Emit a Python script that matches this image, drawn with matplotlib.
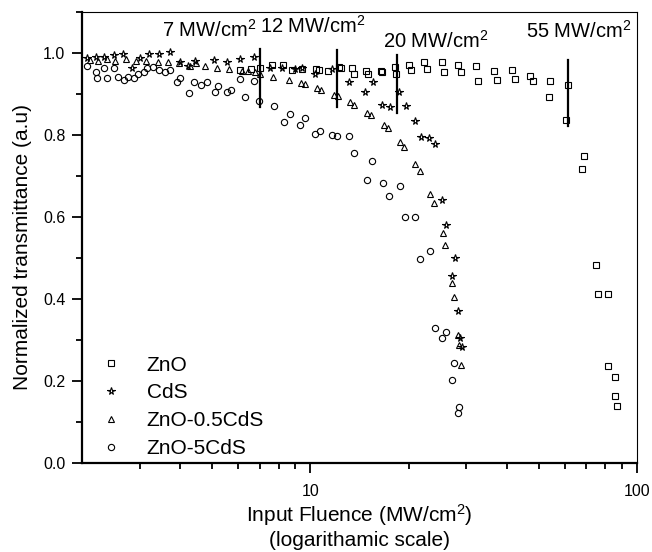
import matplotlib
matplotlib.use('Agg')
import matplotlib.pyplot as plt
from matplotlib.ticker import MultipleLocator, FixedLocator, NullFormatter

plt.rcParams['font.family'] = ['Liberation Sans', 'DejaVu Sans']
plt.rcParams['mathtext.fontset'] = 'custom'
plt.rcParams['mathtext.rm'] = 'Liberation Sans'
plt.rcParams['mathtext.default'] = 'regular'

# ZnO (squares)
zno_x = [6.1, 6.6, 7.03, 7.65, 8.27, 8.81, 9.45, 10.4, 10.6, 11.3, 12.2, 12.4, 13.4, 13.6,
         14.8, 15.0, 16.4, 16.6, 18.1, 18.3, 20.1, 20.4, 22.3, 22.8, 25.3, 25.7, 28.3, 28.9,
         32.2, 32.7, 36.5, 37.3, 41.5, 42.4, 47.1, 48.1, 54.2, 53.8, 61.5, 60.7, 68.8, 67.9,
         74.9, 76.0, 81.5, 81.5, 85.6, 85.6, 86.9]
zno_y = [0.958, 0.962, 0.963, 0.971, 0.971, 0.958, 0.960, 0.962, 0.959, 0.955, 0.966, 0.963,
         0.963, 0.949, 0.955, 0.948, 0.956, 0.953, 0.966, 0.950, 0.972, 0.958, 0.977, 0.962,
         0.977, 0.953, 0.971, 0.954, 0.968, 0.933, 0.956, 0.934, 0.959, 0.937, 0.943, 0.933,
         0.932, 0.892, 0.922, 0.837, 0.749, 0.716, 0.483, 0.412, 0.412, 0.236, 0.211, 0.163,
         0.139]

# CdS (stars)
cds_x = [2.075, 2.20, 2.34, 2.50, 2.67, 2.85, 3.02, 3.20, 3.45, 3.71, 4.00, 4.22, 4.45,
         5.06, 5.56, 6.11, 6.71, 7.55, 8.19, 9.00, 9.43, 10.36, 11.65, 13.09, 14.73, 15.55,
         16.57, 17.48, 18.62, 19.66, 20.84, 21.80, 23.16, 24.12, 25.28, 26.06, 27.63, 27.12,
         28.30, 28.76, 29.11]
cds_y = [0.987, 0.991, 0.990, 0.995, 0.997, 0.964, 0.988, 0.997, 0.997, 1.002, 0.979, 0.969,
         0.980, 0.983, 0.979, 0.985, 0.990, 0.963, 0.964, 0.961, 0.963, 0.950, 0.961, 0.929,
         0.906, 0.930, 0.873, 0.869, 0.904, 0.872, 0.834, 0.794, 0.792, 0.779, 0.641, 0.580,
         0.499, 0.455, 0.371, 0.304, 0.282]

# ZnO-0.5CdS (triangles)
zc05_x = [2.11, 2.24, 2.39, 2.53, 2.72, 2.92, 3.13, 3.41, 3.66, 3.96, 4.27, 4.48, 4.77,
          5.18, 5.63, 6.18, 6.45, 6.79, 7.03, 7.67, 8.58, 9.39, 9.65, 10.49, 10.78, 11.78,
          12.12, 13.19, 13.63, 14.91, 15.33, 16.76, 17.24, 18.85, 19.29, 20.95, 21.60, 23.28,
          23.83, 25.46, 25.87, 27.19, 27.57, 28.41, 28.61, 28.96]
zc05_y = [0.983, 0.981, 0.985, 0.980, 0.985, 0.980, 0.980, 0.979, 0.977, 0.975, 0.969,
          0.975, 0.969, 0.964, 0.961, 0.957, 0.956, 0.954, 0.950, 0.941, 0.934, 0.926, 0.924,
          0.914, 0.911, 0.898, 0.895, 0.881, 0.873, 0.853, 0.849, 0.824, 0.816, 0.784, 0.771,
          0.729, 0.713, 0.656, 0.635, 0.560, 0.532, 0.440, 0.406, 0.312, 0.288, 0.239]

# ZnO-5CdS (circles)
zc5_x = [2.07, 2.20, 2.22, 2.34, 2.39, 2.50, 2.57, 2.68, 2.76, 2.88, 2.96, 3.09, 3.17, 3.29,
         3.43, 3.60, 3.71, 3.92, 4.00, 4.24, 4.39, 4.64, 4.81, 5.09, 5.23, 5.57, 5.73, 6.11,
         6.33, 6.74, 6.98, 7.76, 8.33, 8.69, 9.32, 9.65, 10.36, 10.73, 11.67, 12.09, 13.16,
         13.63, 15.42, 14.89, 16.68, 18.75, 17.35, 19.43, 20.95, 21.70, 23.28, 24.03, 25.93,
         25.28, 27.57, 27.09, 28.55, 28.40]
zc5_y = [0.969, 0.954, 0.938, 0.963, 0.938, 0.964, 0.941, 0.934, 0.942, 0.940, 0.950, 0.953,
         0.963, 0.967, 0.959, 0.953, 0.959, 0.929, 0.938, 0.902, 0.930, 0.922, 0.930, 0.904,
         0.920, 0.906, 0.909, 0.936, 0.892, 0.932, 0.884, 0.870, 0.832, 0.851, 0.824, 0.841,
         0.802, 0.810, 0.800, 0.798, 0.798, 0.755, 0.737, 0.691, 0.682, 0.676, 0.651, 0.601,
         0.601, 0.498, 0.517, 0.329, 0.320, 0.304, 0.245, 0.202, 0.137, 0.122]

# threshold markers
thr_x = [7.0, 12.1, 18.4, 61.5]
thr_lo = [0.868, 0.868, 0.854, 0.822]
thr_hi = [1.010, 1.007, 0.995, 0.983]
thr_labels = ['7 MW/cm$^2$', '12 MW/cm$^2$', '20 MW/cm$^2$', '55 MW/cm$^2$']
thr_text_x = [6.85, 10.15, 16.7, 45.6]
thr_text_y = [1.039, 1.049, 1.012, 1.037]
thr_ha = ['right', 'center', 'left', 'left']

fig = plt.figure(figsize=(6.52, 5.52), dpi=100)
ax = fig.add_axes([0.1258, 0.1612, 0.8512, 0.8170])

mk = dict(ls='none', mfc='none', mec='black', mew=0.8)
ax.plot(zno_x, zno_y, marker='s', ms=4, label='ZnO', **mk)
ax.plot(cds_x, cds_y, marker='*', ms=5.5, label='CdS', **mk)
ax.plot(zc05_x, zc05_y, marker='^', ms=5, label='ZnO-0.5CdS', **mk)
ax.plot(zc5_x, zc5_y, marker='o', ms=4.5, label='ZnO-5CdS', **mk)

for x, lo, hi in zip(thr_x, thr_lo, thr_hi):
    ax.plot([x, x], [lo, hi], color='black', lw=1.6)
for x, y, s, ha in zip(thr_text_x, thr_text_y, thr_labels, thr_ha):
    ax.text(x, y, s, ha=ha, va='baseline', fontsize=14.5)

ax.set_xscale('log')
ax.set_xlim(2, 100)
ax.set_ylim(0, 1.1)
ax.xaxis.set_major_locator(FixedLocator([10, 100]))
ax.xaxis.set_minor_locator(FixedLocator([3, 4, 5, 6, 7, 8, 9, 20, 30, 40, 50, 60, 70, 80, 90]))
ax.xaxis.set_major_formatter(matplotlib.ticker.FixedFormatter(['10', '100']))
ax.xaxis.set_minor_formatter(NullFormatter())
ax.yaxis.set_major_locator(MultipleLocator(0.2))
ax.yaxis.set_minor_locator(MultipleLocator(0.1))
ax.yaxis.set_major_formatter(matplotlib.ticker.FormatStrFormatter('%.1f'))

ax.tick_params(which='major', direction='out', length=7, width=1.3, labelsize=11.5, top=False, right=False)
ax.tick_params(axis='x', which='major', pad=8)
ax.tick_params(axis='y', which='major', pad=5)
ax.tick_params(which='minor', direction='out', length=4, width=1.3, top=False, right=False)
ax.spines['left'].set_linewidth(1.6)
ax.spines['bottom'].set_linewidth(1.6)
ax.spines['top'].set_linewidth(0.8)
ax.spines['right'].set_linewidth(0.8)

ax.set_xlabel('Input Fluence (MW/cm$^2$)\n(logarithamic scale)', fontsize=15, linespacing=1.2, labelpad=2)
ax.set_ylabel('Normalized transmittance (a.u)', fontsize=15)
ax.yaxis.set_label_coords(-0.09, 0.478)

ax.legend(loc='lower left', bbox_to_anchor=(0.0, -0.03), frameon=False, fontsize=15,
          handlelength=1.0, handletextpad=1.2, labelspacing=0.42, markerscale=1.0)

fig.savefig('out.png', dpi=100)
